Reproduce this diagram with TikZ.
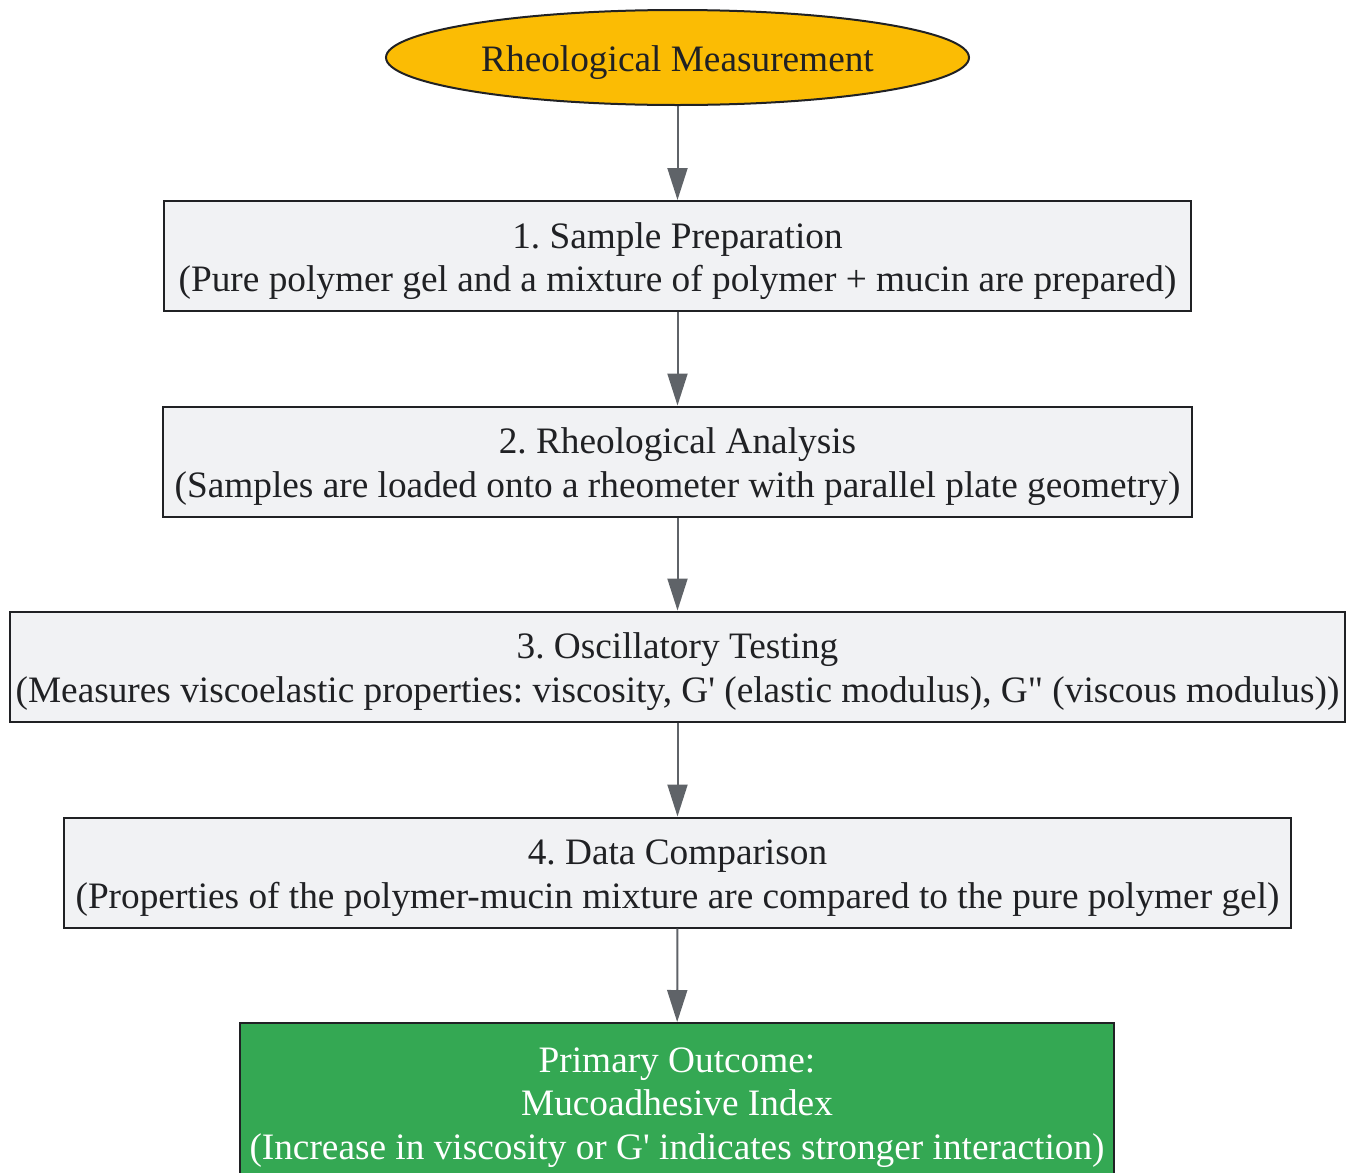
\documentclass[tikz,border=0pt]{standalone}
\usepackage{fontspec}
\setmainfont{Liberation Serif}[Ligatures=TeXOff]
\frenchspacing
\usetikzlibrary{shapes.geometric,arrows.meta}
\definecolor{txt}{HTML}{202124}
\definecolor{boxfill}{HTML}{F1F2F4}
\definecolor{yel}{HTML}{FBBC04}
\definecolor{grn}{HTML}{34A853}
\definecolor{arrc}{HTML}{5F6368}
\newcommand{\lowerstrut}{\rule{0pt}{36pt}}
\tikzset{
  stepbox/.style={draw=txt, line width=2pt, fill=boxfill, rectangle, inner sep=0pt,
    text=txt, align=center, font=\fontsize{37.3}{43.5}\selectfont, minimum height=110pt},
  startnode/.style={draw=txt, line width=2pt, fill=yel, ellipse, inner sep=0pt,
    text=txt, font=\fontsize{37.3}{43.5}\selectfont, minimum width=583pt, minimum height=95pt},
  outbox/.style={draw=txt, line width=2pt, fill=grn, rectangle, inner sep=0pt,
    text=white, align=center, font=\fontsize{37.3}{43.5}\selectfont},
  arr/.style={draw=arrc, line width=2pt, -{Triangle[length=32pt,width=20pt]}, fill=arrc}
}
\begin{document}
\begin{tikzpicture}[x=1pt,y=-1pt]
\useasboundingbox (0,0) rectangle (1350,1173);
\node[startnode] (start) at (677.5,57.5) {\lowerstrut Rheological Measurement};
\node[stepbox, minimum width=1027pt] (s1) at (677.5,256) {\lowerstrut 1. Sample Preparation\\(Pure polymer gel and a mixture of polymer + mucin are prepared)};
\node[stepbox, minimum width=1029pt] (s2) at (677.5,461.5) {\lowerstrut 2. Rheological Analysis\\(Samples are loaded onto a rheometer with parallel plate geometry)};
\node[stepbox, minimum width=1335pt] (s3) at (677.5,666.5) {\lowerstrut 3. Oscillatory Testing\\(Measures viscoelastic properties: viscosity, G' (elastic modulus), G" (viscous modulus))};
\node[stepbox, minimum width=1227pt] (s4) at (677.5,872.5) {\lowerstrut 4. Data Comparison\\(Properties of the polymer-mucin mixture are compared to the pure polymer gel)};
\node[outbox, minimum width=874pt, minimum height=158pt] (out) at (677,1102) {\lowerstrut Primary Outcome:\\Mucoadhesive Index\\(Increase in viscosity or G' indicates stronger interaction)};
\draw[arr] (start) -- (s1);
\draw[arr] (s1) -- (s2);
\draw[arr] (s2) -- (s3);
\draw[arr] (s3) -- (s4);
\draw[arr] (s4) -- (out);
\end{tikzpicture}
\end{document}
